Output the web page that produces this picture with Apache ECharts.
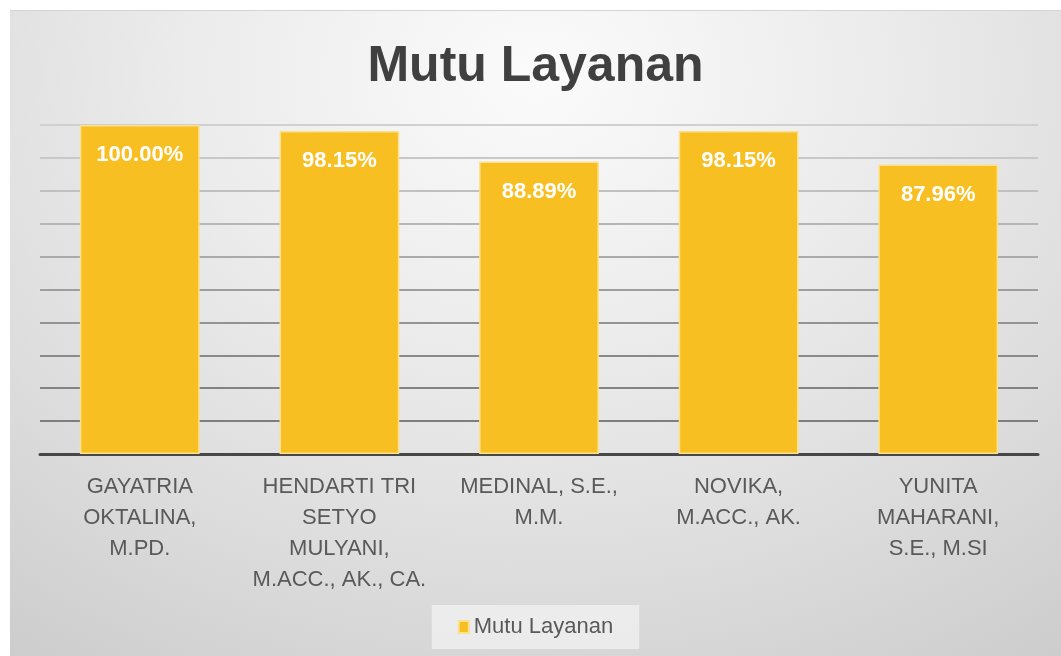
<!DOCTYPE html>
<html>
<head>
<meta charset="utf-8">
<title>Mutu Layanan</title>
<script src="https://cdn.jsdelivr.net/npm/echarts@6/dist/echarts.min.js"></script>
<style>
    html, body { margin: 0; padding: 0; background: #ffffff; }
    #chart {
        position: absolute;
        left: 10px;
        top: 10px;
        width: 1051px;
        height: 646px;
        border-top: 1px solid #d4d4d4;
        box-sizing: border-box;
        background: radial-gradient(ellipse 85% 110% at 50% 10%, #fbfbfb 0%, #ebebeb 40%, #dddddd 70%, #cdcdcd 100%);
    }
</style>
</head>
<body>
<div id="chart"></div>
<script>
    // 数据
    const categories = [
        'GAYATRIA\nOKTALINA,\nM.PD.',
        'HENDARTI TRI\nSETYO\nMULYANI,\nM.ACC., AK., CA.',
        'MEDINAL, S.E.,\nM.M.',
        'NOVIKA,\nM.ACC., AK.',
        'YUNITA\nMAHARANI,\nS.E., M.SI'
    ];
    const mutuLayanan = [100.00, 98.15, 88.89, 98.15, 87.96];
    const seriesName = 'Mutu Layanan';

    const FONT = '"Liberation Sans", Arial, sans-serif';

    const chart = echarts.init(document.getElementById('chart'));

    const option = {
        backgroundColor: 'transparent',
        textStyle: { fontFamily: FONT },
        title: {
            text: 'Mutu Layanan',
            left: 'center',
            top: 26,
            textStyle: { fontSize: 50, fontWeight: 'bold', color: '#404040', fontFamily: FONT }
        },
        legend: {
            data: [seriesName],
            bottom: 7,
            left: 'center',
            icon: 'rect',
            itemWidth: 10,
            itemHeight: 12,
            itemGap: 6,
            padding: [11, 26, 11, 26],
            backgroundColor: 'rgba(238,238,238,0.85)',
            textStyle: { fontSize: 22, color: '#595959', fontFamily: FONT }
        },
        grid: {
            left: 30,
            right: 23,
            top: 114,
            bottom: 202
        },
        xAxis: {
            type: 'category',
            data: categories,
            axisTick: { show: false },
            axisLine: { lineStyle: { color: '#474747', width: 3 } },
            axisLabel: {
                interval: 0,
                margin: 17,
                fontSize: 22,
                lineHeight: 31,
                color: '#595959',
                fontFamily: FONT
            }
        },
        yAxis: {
            type: 'value',
            min: 0,
            max: 100,
            interval: 10,
            axisLabel: { show: false },
            axisLine: { show: false },
            axisTick: { show: false },
            splitLine: {
                lineStyle: {
                    width: 2,
                    color: ['#7a7a7a', '#7e7e7e', '#838383', '#8a8a8a', '#939393', '#9e9e9e',
                            '#aaaaaa', '#b6b6b6', '#c0c0c0', '#c8c8c8', '#d0d0d0']
                }
            }
        },
        series: [{
            name: seriesName,
            type: 'bar',
            data: mutuLayanan,
            barWidth: '60%',
            itemStyle: {
                color: '#F7BF22',
                borderColor: '#FCE08C',
                borderWidth: 1.5
            },
            label: {
                show: true,
                position: 'insideTop',
                distance: 19,
                fontSize: 22,
                fontWeight: 'bold',
                color: '#ffffff',
                fontFamily: FONT,
                formatter: p => p.value.toFixed(2) + '%'
            }
        }]
    };

    chart.setOption(option);
    window.addEventListener('resize', () => chart.resize());
</script>
</body>
</html>
